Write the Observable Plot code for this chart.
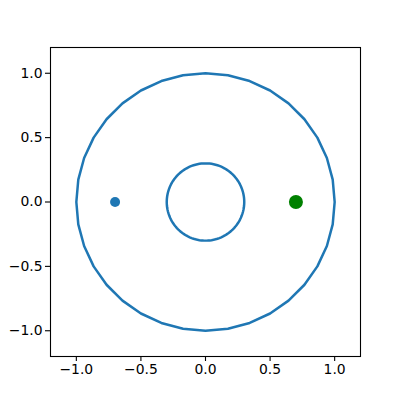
<!DOCTYPE html>
<html><head><meta charset="utf-8">
<script src="https://cdn.jsdelivr.net/npm/d3@7"></script>
<script src="https://cdn.jsdelivr.net/npm/@observablehq/plot@0.6"></script>
<style>body{margin:0;background:#fff}svg{display:block}</style>
</head><body><div id="chart"></div>
<script>
const xTicks = [-1.0, -0.5, 0.0, 0.5, 1.0];
const yTicks = [-1.0, -0.5, 0.0, 0.5, 1.0];
const circleRadii = [1.0, 0.3];
const circleSegments = [36, 120];
const pointX = [-0.7, 0.7];
const pointY = [0.0, 0.0];
const pointColor = ["#1f77b4", "green"];
const pointSize = [5, 7];

const circlePts = [];
circleRadii.forEach((r, k) => {
  const n = circleSegments[k];
  for (let i = 0; i <= n; i++) {
    const a = 2 * Math.PI * i / n;
    circlePts.push({c: k, x: r * Math.cos(a), y: r * Math.sin(a)});
  }
});
const points = pointX.map((x, i) => ({x, y: pointY[i], color: pointColor[i], r: pointSize[i]}));

const fmt = d3.format(".1f");
const chart = Plot.plot({
  width: 400, height: 400,
  marginLeft: 50, marginRight: 40, marginTop: 47, marginBottom: 44,
  style: {fontFamily: "DejaVu Sans", fontSize: "13.9px", color: "black", background: "white"},
  x: {domain: [-1.2, 1.2]},
  y: {domain: [-1.2, 1.2]},
  r: {type: "identity"},
  marks: [
    Plot.line(circlePts, {x: "x", y: "y", z: "c", stroke: "#1f77b4", strokeWidth: 2.5}),
    Plot.dot(points, {x: "x", y: "y", fill: "color", r: "r", stroke: null}),
    Plot.frame({stroke: "black", strokeWidth: 1.1}),
    Plot.axisX(xTicks, {tickSize: 5, tickPadding: 3, tickFormat: fmt, fontSize: 13.9, label: null, strokeWidth: 1.1}),
    Plot.axisY(yTicks, {tickSize: 5, tickPadding: 3, tickFormat: fmt, fontSize: 13.9, label: null, strokeWidth: 1.1})
  ]
});
document.getElementById("chart").append(chart);
</script></body></html>
